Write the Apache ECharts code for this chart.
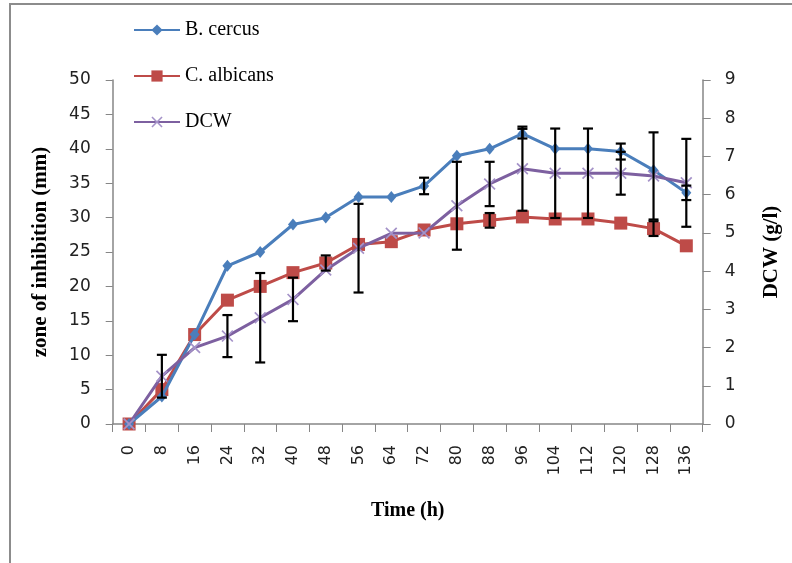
<!DOCTYPE html>
<html>
<head>
<meta charset="utf-8">
<script src="https://cdn.jsdelivr.net/npm/echarts@6/dist/echarts.min.js"></script>
<style>
html,body{margin:0;padding:0;background:#fff;}
#chart{width:792px;height:563px;}
</style>
</head>
<body>
<div id="chart"></div>
<script>
const categories = ['0','8','16','24','32','40','48','56','64','72','80','88','96','104','112','120','128','136'];
const bCereus   = [0, 4, 13, 23, 25, 29, 30, 33, 33, 34.6, 39, 40, 42.2, 40, 40, 39.6, 36.9, 33.6];
const cAlbicans = [0, 5, 13, 18, 20, 22, 23.4, 26.1, 26.5, 28.2, 29.1, 29.6, 30.1, 29.8, 29.8, 29.2, 28.4, 25.9];
const dcw       = [0, 1.25, 2.0, 2.3, 2.78, 3.26, 4.03, 4.6, 4.99, 5.0, 5.71, 6.28, 6.68, 6.56, 6.56, 6.56, 6.49, 6.31];
const bCereusErr   = [0, 0, 0, 0, 0, 0, 0, 0, 0, 1.2, 0, 0, 0.7, 0, 0, 1.16, 0, 1.05];
const cAlbicansErr = [0, 0, 0, 0, 0, 0, 1.1, 0, 0, 0, 0, 1.06, 0, 0, 0, 0, 1.07, 0];
const dcwErr       = [0, 0.56, 0, 0.55, 1.17, 0.57, 0, 1.16, 0, 0, 1.15, 0.58, 1.1, 1.17, 1.17, 0.56, 1.14, 1.15];
const leftTicks = { min: 0, max: 50, interval: 5 };
const rightTicks = { min: 0, max: 9, interval: 1 };

function errData(vals, errs) {
  const out = [];
  vals.forEach((v, i) => { if (errs[i] > 0) out.push([i, v, errs[i]]); });
  return out;
}
function renderErr(params, api) {
  const x = api.value(0), v = api.value(1), e = api.value(2);
  const t = api.coord([x, v + e]);
  const b = api.coord([x, v - e]);
  const hw = 5;
  const st = { stroke: '#000', lineWidth: 2.2 };
  return { type: 'group', children: [
    { type: 'line', shape: { x1: t[0], y1: t[1], x2: b[0], y2: b[1] }, style: st },
    { type: 'line', shape: { x1: t[0] - hw, y1: t[1], x2: t[0] + hw, y2: t[1] }, style: st },
    { type: 'line', shape: { x1: b[0] - hw, y1: b[1], x2: b[0] + hw, y2: b[1] }, style: st }
  ]};
}
const xSymbol = 'path://M0 1 L1 0 L5 4 L9 0 L10 1 L6 5 L10 9 L9 10 L5 6 L1 10 L0 9 L4 5 Z';
const axisColor = '#868686';
const serif = '"Liberation Serif", "Times New Roman", serif';
const sans = '"DejaVu Sans", Verdana, sans-serif';

const chart = echarts.init(document.getElementById('chart'));
chart.setOption({
  animation: false,
  backgroundColor: '#fff',
  graphic: [{
    type: 'polyline', silent: true,
    shape: { points: [[10, 563], [10, 4], [792, 4]] },
    style: { stroke: '#8c8c8c', lineWidth: 2, fill: 'none' }
  }],
  legend: {
    data: ['B. cercus', 'C. albicans', 'DCW'],
    orient: 'vertical', left: 133, top: 19, padding: 0,
    itemWidth: 46, itemHeight: 14, itemGap: 24,
    textStyle: { fontFamily: serif, fontSize: 20, color: '#000', lineHeight: 22 }
  },
  grid: { left: 112.7, right: 89.3, top: 80, bottom: 139, containLabel: false },
  xAxis: {
    type: 'category', data: categories, boundaryGap: true,
    name: 'Time (h)', nameLocation: 'middle', nameGap: 77,
    nameTextStyle: { fontFamily: serif, fontSize: 20, fontWeight: 'bold', color: '#000' },
    axisLine: { lineStyle: { color: axisColor, width: 1.5 } },
    axisTick: { show: true, length: 8, inside: false, alignWithLabel: false, lineStyle: { color: axisColor } },
    axisLabel: { interval: 0, rotate: 90, margin: 21, fontFamily: sans, fontSize: 16, color: '#222' },
    splitLine: { show: false }
  },
  yAxis: [{
    type: 'value', min: leftTicks.min, max: leftTicks.max, interval: leftTicks.interval,
    name: 'zone of inhibition (mm)', nameLocation: 'middle', nameGap: 62, nameRotate: 90,
    nameTextStyle: { fontFamily: serif, fontSize: 21, fontWeight: 'bold', color: '#000' },
    axisLine: { show: true, lineStyle: { color: axisColor, width: 1.5 } },
    axisTick: { show: true, length: 7, lineStyle: { color: axisColor } },
    axisLabel: { margin: 22, fontFamily: sans, fontSize: 17, color: '#222' },
    splitLine: { show: false }
  }, {
    type: 'value', position: 'right', min: rightTicks.min, max: rightTicks.max, interval: rightTicks.interval,
    name: 'DCW (g/l)', nameLocation: 'middle', nameGap: 58, nameRotate: 90,
    nameTextStyle: { fontFamily: serif, fontSize: 21, fontWeight: 'bold', color: '#000' },
    axisLine: { show: true, lineStyle: { color: axisColor, width: 1.5 } },
    axisTick: { show: true, length: 8, lineStyle: { color: axisColor } },
    axisLabel: { margin: 22, fontFamily: sans, fontSize: 17, color: '#222' },
    splitLine: { show: false }
  }],
  series: [{
    name: 'B. cercus', type: 'line', yAxisIndex: 0, data: bCereus,
    symbol: 'diamond', symbolSize: [10, 12], showAllSymbol: true,
    lineStyle: { color: '#4A7EBB', width: 3 }, itemStyle: { color: '#4A7EBB' }, z: 3
  }, {
    name: 'C. albicans', type: 'line', yAxisIndex: 0, data: cAlbicans,
    symbol: 'rect', symbolSize: 13, showAllSymbol: true,
    lineStyle: { color: '#BE4B48', width: 3 }, itemStyle: { color: '#BE4B48' }, z: 2
  }, {
    name: 'DCW', type: 'line', yAxisIndex: 1, data: dcw,
    symbol: xSymbol, symbolSize: 12, showAllSymbol: true,
    lineStyle: { color: '#7D60A0', width: 3 }, itemStyle: { color: '#a492c8' }, z: 4
  }, {
    type: 'custom', yAxisIndex: 0, data: errData(bCereus, bCereusErr),
    encode: { x: 0, y: 1 }, renderItem: renderErr, z: 10, silent: true
  }, {
    type: 'custom', yAxisIndex: 0, data: errData(cAlbicans, cAlbicansErr),
    encode: { x: 0, y: 1 }, renderItem: renderErr, z: 10, silent: true
  }, {
    type: 'custom', yAxisIndex: 1, data: errData(dcw, dcwErr),
    encode: { x: 0, y: 1 }, renderItem: renderErr, z: 10, silent: true
  }]
});
</script>
</body>
</html>
